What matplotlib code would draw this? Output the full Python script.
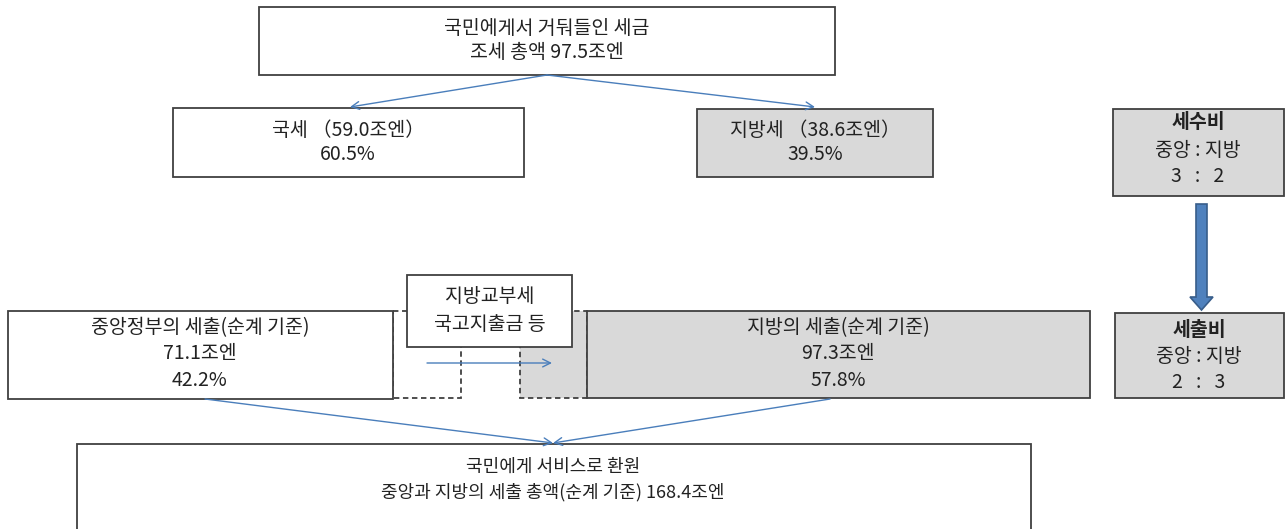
import matplotlib
matplotlib.use("Agg")
import matplotlib.pyplot as plt
from matplotlib.patches import Rectangle, FancyArrow

plt.rcParams['font.family'] = ['Noto Sans CJK KR', 'DejaVu Sans']

# 세금 흐름 데이터
조세_총액 = 97.5
국세 = 59.0
지방세 = 38.6
국세_비율 = 60.5
지방세_비율 = 39.5
중앙_세출 = 71.1
지방_세출 = 97.3
중앙_세출_비율 = 42.2
지방_세출_비율 = 57.8
세출_총액 = 168.4
세수비 = [3, 2]
세출비 = [2, 3]

fig = plt.figure(figsize=(12.87, 5.29), dpi=100)
ax = fig.add_axes([0, 0, 1, 1])
ax.set_xlim(0, 1287)
ax.set_ylim(529, 0)
ax.axis("off")

grey = "#d9d9d9"
edge = "#404040"
blue = "#4a7ebb"
fs = 14


def box(x0, x1, y0, y1, fill="white", ls="-", ec=edge, z=2):
    ax.add_patch(Rectangle((x0, y0), x1 - x0, y1 - y0, facecolor=fill,
                           edgecolor=ec, lw=1.3, linestyle=ls, zorder=z))


def lines(x, ys, texts, bold_first=False, size=fs):
    for i, (y, t) in enumerate(zip(ys, texts)):
        w = "bold" if (bold_first and i == 0) else "normal"
        ax.text(x, y, t, ha="center", va="center", fontsize=size,
                color="#222222", fontweight=w, zorder=6)


def arrow(x0, y0, x1, y1):
    ax.annotate("", xy=(x1, y1), xytext=(x0, y0),
                arrowprops=dict(arrowstyle="->", color=blue, lw=1.0,
                                mutation_scale=14, shrinkA=0, shrinkB=0),
                zorder=5)


# 맨 위 상자
box(259, 835, 7, 75)
lines(547, [28, 53], ["국민에게서 거둬들인 세금", f"조세 총액 {조세_총액}조엔"])

# 국세 / 지방세
box(173, 524, 108, 177)
lines(348, [130, 155], [f"국세 （{국세}조엔）", f"{국세_비율}%"])
box(697, 933, 109, 177, fill=grey)
lines(815, [130, 155], [f"지방세 （{지방세}조엔）", f"{지방세_비율}%"])

arrow(547, 75, 350, 107)
arrow(547, 75, 815, 107)

# 세수비 / 세출비
box(1113, 1284, 109, 196, fill=grey)
lines(1198, [123, 150, 177], ["세수비", "중앙 : 지방", f"{세수비[0]}   :   {세수비[1]}"], bold_first=True)
ax.add_patch(FancyArrow(1201.5, 204, 0, 106, width=11, head_width=23,
                        head_length=13, length_includes_head=True,
                        facecolor="#4f81bd", edgecolor="#385d8a", lw=1.2, zorder=3))
box(1115, 1284, 313, 398, fill=grey)
lines(1199, [331, 357, 383], ["세출비", "중앙 : 지방", f"{세출비[0]}   :   {세출비[1]}"], bold_first=True)

# 중앙정부의 세출
box(393, 461, 311, 398, ls=(0, (3, 2)), z=1)
box(8, 393, 311, 399)
lines(200, [328, 354, 380], ["중앙정부의 세출(순계 기준)", f"{중앙_세출}조엔", f"{중앙_세출_비율}%"])

# 지방의 세출
box(520, 587, 311, 398, fill=grey, ls=(0, (3, 2)), z=1)
box(587, 1090, 311, 398, fill=grey)
lines(838, [328, 354, 380], ["지방의 세출(순계 기준)", f"{지방_세출}조엔", f"{지방_세출_비율}%"])

# 지방교부세
box(407, 572, 275, 347, z=3)
lines(490, [297, 324], ["지방교부세", "국고지출금 등"])
arrow(427, 363, 552, 363)

# 맨 아래 상자
box(77, 1031, 444, 560)
lines(553, [467, 492], ["국민에게 서비스로 환원", f"중앙과 지방의 세출 총액(순계 기준) {세출_총액}조엔"], size=13)

arrow(205, 399, 553, 443)
arrow(830, 399, 553, 443)

fig.savefig("out.png", dpi=100)
